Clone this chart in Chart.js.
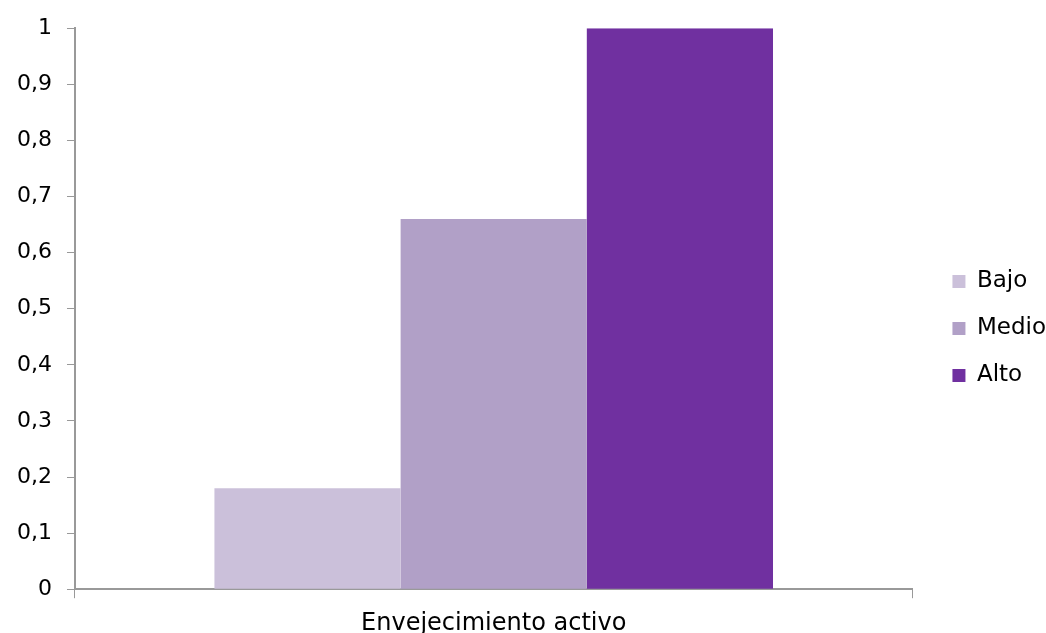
<!DOCTYPE html>
<html>
<head>
<meta charset="utf-8">
<script src="https://cdn.jsdelivr.net/npm/chart.js@4"></script>
<style>
  html, body { margin: 0; padding: 0; background: #fff; }
  #wrap { width: 1046px; height: 633px; }
</style>
</head>
<body>
<div id="wrap"><canvas id="chart"></canvas></div>
<script>
/* datos: nivel de envejecimiento activo */
const categories = ['Envejecimiento activo'];
const seriesNames = ['Bajo', 'Medio', 'Alto'];
const bajo = [0.18];
const medio = [0.66];
const alto = [1];
const seriesColors = ['#CBC0DA', '#B1A0C7', '#7030A0'];

const axisGrey = '#999999';
const fontFam = '"DejaVu Sans", Verdana, sans-serif';
const legendGap = 16; // extra space between plot and legend
const legendLift = 4;  // nudge legend items up a bit

// widen the legend box on the left without moving its items
const legendShift = {
  id: 'legendShift',
  afterInit(chart) {
    const lg = chart.legend;
    const fit = lg.fit;
    lg.fit = function () { fit.call(this); this.width += legendGap; };
  },
  afterLayout(chart) {
    const lg = chart.legend;
    lg.left += legendGap;
    lg.top -= legendLift;
    lg.bottom -= legendLift;
  }
};

new Chart(document.getElementById('chart').getContext('2d'), {
  type: 'bar',
  data: {
    labels: categories,
    datasets: [bajo, medio, alto].map((d, i) => ({
      label: seriesNames[i],
      data: d,
      backgroundColor: seriesColors[i],
      borderWidth: 0,
      categoryPercentage: 0.667,
      barPercentage: 1
    }))
  },
  options: {
    responsive: true,
    maintainAspectRatio: false,
    animation: false,
    layout: { padding: { top: 16, right: -10, left: 2, bottom: -16 } },
    plugins: {
      legend: {
        position: 'right',
        labels: {
          boxWidth: 13, boxHeight: 13, padding: 24,
          color: '#000', font: { family: fontFam, size: 23 }
        }
      },
      tooltip: { enabled: false }
    },
    scales: {
      x: {
        grid: { drawOnChartArea: false, drawTicks: true, tickLength: 9, color: axisGrey, offset: true },
        border: { color: axisGrey, width: 2 },
        ticks: { color: '#000', font: { family: fontFam, size: 24 }, padding: 11 }
      },
      y: {
        min: 0, max: 1,
        grid: { drawOnChartArea: false, drawTicks: true, tickLength: 8, color: axisGrey },
        border: { color: axisGrey, width: 2 },
        ticks: {
          stepSize: 0.1, color: '#000', padding: 15,
          font: { family: fontFam, size: 22 },
          callback: v => String(Math.round(v * 10) / 10).replace('.', ',')
        }
      }
    }
  },
  plugins: [legendShift]
});
</script>
</body>
</html>
